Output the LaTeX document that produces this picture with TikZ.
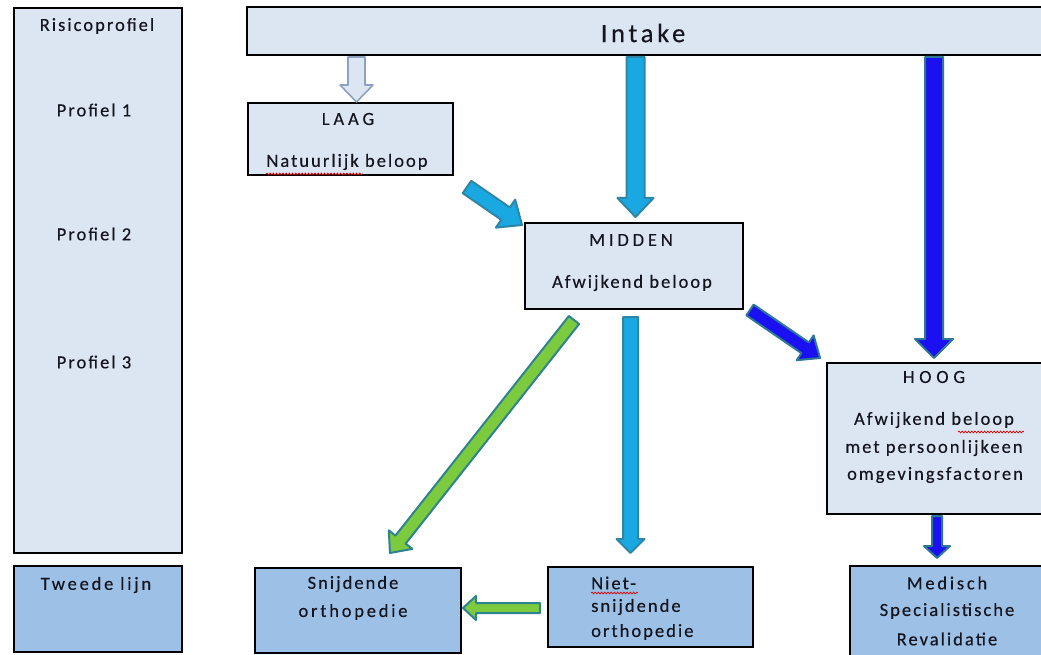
\documentclass[tikz,border=0pt]{standalone}
\usepackage{fontspec}
\setmainfont{Carlito}
\newfontfamily\trackfont{Carlito}[LetterSpace=11,FakeBold=0.35]
\newfontfamily\bigfont{Carlito}[LetterSpace=14,FakeBold=0.35]
\newfontfamily\widefont{Carlito}[LetterSpace=21,FakeBold=0.35]
\newfontfamily\widerfont{Carlito}[LetterSpace=26,FakeBold=0.35]
\newfontfamily\midwidefont{Carlito}[LetterSpace=15,FakeBold=0.35]
\usetikzlibrary{calc,decorations.pathmorphing}
\definecolor{boxlight}{HTML}{DCE6F2}
\definecolor{boxdark}{HTML}{9DC0E6}
\definecolor{cyanfill}{HTML}{1AA8E2}
\definecolor{cyanline}{HTML}{2E86A6}
\definecolor{bluefill}{HTML}{1A10F2}
\definecolor{blueline}{HTML}{2E7896}
\definecolor{greenfill}{HTML}{7CCB3E}
\definecolor{greenline}{HTML}{2F8290}
\definecolor{hollowline}{HTML}{8DA2BE}
\definecolor{inkcol}{HTML}{15151F}
\tikzset{
  box/.style={draw=black, line width=1.4pt, anchor=north west, inner sep=0pt, outer sep=0pt},
  lightbox/.style={box, fill=boxlight},
  darkbox/.style={box, fill=boxdark},
  txt/.style={font=\trackfont\fontsize{18.5}{22}\selectfont, inner sep=0pt, text=inkcol},
  midwidetxt/.style={font=\midwidefont\fontsize{18.5}{22}\selectfont, inner sep=0pt, text=inkcol},
  widetxt/.style={font=\widefont\fontsize{18.5}{22}\selectfont, inner sep=0pt, text=inkcol},
  widertxt/.style={font=\widerfont\fontsize{18.5}{22}\selectfont, inner sep=0pt, text=inkcol},
  blockarrow/.style n args={3}{
    to path={
      let \p1=(\tikztostart), \p2=(\tikztotarget),
          \n1={atan2(\y2-\y1,\x2-\x1)}, \n2={veclen(\x2-\x1,\y2-\y1)} in
      ($(\p1)+(\n1+90:{#1*0.5pt})$)
      -- ($(\p1)+(\n1:{(\n2-#3)*1pt})+(\n1+90:{#1*0.5pt})$)
      -- ($(\p1)+(\n1:{(\n2-#3)*1pt})+(\n1+90:{#2*0.5pt})$)
      -- (\p2)
      -- ($(\p1)+(\n1:{(\n2-#3)*1pt})+(\n1-90:{#2*0.5pt})$)
      -- ($(\p1)+(\n1:{(\n2-#3)*1pt})+(\n1-90:{#1*0.5pt})$)
      -- ($(\p1)+(\n1-90:{#1*0.5pt})$) -- cycle
    }
  },
  cyanarrow/.style={fill=cyanfill, draw=cyanline, line width=2pt, line join=round},
  bluearrow/.style={fill=bluefill, draw=blueline, line width=2pt, line join=round},
  greenarrow/.style={fill=greenfill, draw=greenline, line width=2pt, line join=round},
  hollowarrow/.style={fill=boxlight, draw=hollowline, line width=1.6pt, line join=round},
  squiggle/.style={draw=red!85!black, line width=0.7pt, decorate, decoration={snake, amplitude=0.9pt, segment length=3.2pt}}
}
\begin{document}
\begin{tikzpicture}[x=1pt,y=-1pt]
\useasboundingbox (0,0) rectangle (1041,655);
\fill[white] (0,0) rectangle (1041,655);

% boxes
\node[lightbox, minimum width=168pt, minimum height=545pt] (risico) at (14,8) {};
\node[darkbox, minimum width=168pt, minimum height=86pt] (tweede) at (14,566) {};
\node[lightbox, minimum width=800pt, minimum height=48pt] (intake) at (247,7) {};
\node[lightbox, minimum width=205pt, minimum height=72pt] (laag) at (248,103) {};
\node[lightbox, minimum width=218pt, minimum height=86pt] (midden) at (525,223) {};
\node[lightbox, minimum width=220pt, minimum height=151pt] (hoog) at (827,363) {};
\node[darkbox, minimum width=206pt, minimum height=85pt] (snij) at (255,568) {};
\node[darkbox, minimum width=205pt, minimum height=80pt] (niet) at (548,567) {};
\node[darkbox, minimum width=200pt, minimum height=95pt] (medisch) at (850,566) {};

% texts
\node[txt] (t-risico) at (97,26) {Risicoprofiel};
\node[txt] (t-p1) at (94,110) {Profiel 1};
\node[txt] (t-p2) at (94,234) {Profiel 2};
\node[txt] (t-p3) at (94,362) {Profiel 3};
\node[midwidetxt] (t-tweede) at (96,585) {Tweede lijn};
\node[txt, font=\bigfont\fontsize{26.5}{30}\selectfont] (t-intake) at (643,33) {Intake};
\node[widetxt] (t-laag) at (348,119) {LAAG};
\node[txt] (t-nat) at (347,162) {Natuurlijk beloop};
\node[widetxt] (t-midden) at (631,240) {MIDDEN};
\node[txt] (t-afw) at (632,283) {Afwijkend beloop};
\node[widertxt] (t-hoog) at (934,377) {HOOG};
\node[txt] (t-h1) at (934,420) {Afwijkend beloop};
\node[txt] (t-h2) at (934,448) {met persoonlijkeen};
\node[txt] (t-h3) at (935,475) {omgevingsfactoren};
\node[txt] (t-s1) at (353,584) {Snijdende};
\node[midwidetxt] (t-s2) at (353,612) {orthopedie};
\node[txt, anchor=west] (t-n1) at (591,583) {Niet-};
\node[txt, anchor=west] (t-n2) at (591,607) {snijdende};
\node[txt, anchor=west] (t-n3) at (591,632) {orthopedie};
\node[midwidetxt] (t-m1) at (947,583) {Medisch};
\node[txt] (t-m2) at (947,611) {Specialistische};
\node[txt] (t-m3) at (947,639) {Revalidatie};

% spell-check squiggles
\draw[squiggle] (266,174) -- (363,174);
\draw[squiggle] (958,432) -- (1024,432);
\draw[squiggle] (591,593) -- (638,593);

% arrow end points
\coordinate (a1s) at (356.5,57);  \coordinate (a1e) at (356.5,102);
\coordinate (a2s) at (635.5,57);  \coordinate (a2e) at (635.5,217);
\coordinate (a3s) at (934,57);    \coordinate (a3e) at (934,358);
\coordinate (a4s) at (467,187);   \coordinate (a4e) at (522,225);
\coordinate (a5s) at (750,310);   \coordinate (a5e) at (820,358);
\coordinate (a6s) at (574,320);   \coordinate (a6e) at (390,553);
\coordinate (a7s) at (630.5,317); \coordinate (a7e) at (630.5,553);
\coordinate (a8s) at (540,608);   \coordinate (a8e) at (463,608);
\coordinate (a9s) at (937,516);   \coordinate (a9e) at (937,558);

% arrows
\draw[hollowarrow, blockarrow={17}{33}{17}] (a1s) to (a1e);
\draw[cyanarrow, blockarrow={18}{36}{19}] (a2s) to (a2e);
\draw[bluearrow, blockarrow={18}{38}{19}] (a3s) to (a3e);
\draw[cyanarrow, blockarrow={15}{34}{20}] (a4s) to (a4e);
\draw[bluearrow, blockarrow={13}{30}{18}] (a5s) to (a5e);
\draw[greenarrow, blockarrow={13}{30}{17}] (a6s) to (a6e);
\draw[cyanarrow, blockarrow={15}{28}{14}] (a7s) to (a7e);
\draw[greenarrow, blockarrow={10}{24}{13}] (a8s) to (a8e);
\draw[bluearrow, blockarrow={10}{26}{12}] (a9s) to (a9e);
\end{tikzpicture}
\end{document}
